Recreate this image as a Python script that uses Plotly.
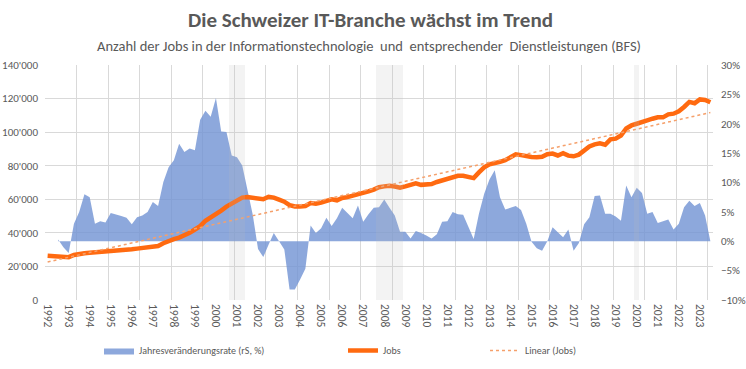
import plotly.graph_objects as go
import numpy as np

# ---------------- data ----------------
start_year = 1992
n_quarters = 127  # 1992Q1 .. 2023Q3
quarters = [start_year + k / 4 for k in range(n_quarters)]

jobs = [
    26400, 26200, 25900, 25600, 25500, 26800, 27500, 27900, 28100, 28300,
    28600, 28900, 29200, 29400, 29700, 29900, 30200, 30600, 31000, 31400,
    31700, 32200, 33800, 35200, 36300, 37200, 38500, 40000, 42000, 44000,
    47200, 49000, 50800, 53300, 55600, 57300, 59000, 61000, 61400, 61000,
    60000, 60000, 61500, 61000, 59800, 58600, 56500, 55700, 55700, 56000,
    57800, 57300, 58000, 59000, 60000, 59400, 60800, 61300, 62000, 62800,
    63700, 64700, 65800, 67200, 67700, 68100, 67600, 66900, 67700, 68600,
    69500, 68600, 68900, 69100, 70300, 71300, 72300, 73500, 74000, 74000,
    73300, 72600, 76000, 79000, 80800, 81400, 82300, 83300, 85000, 86800,
    86300, 85500, 85200, 85000, 85300, 86800, 87200, 86100, 87500, 86000,
    85600, 86600, 89200, 91500, 92700, 93300, 92500, 95700, 96100, 98000,
    102200, 104000, 105000, 105700, 107000, 108000, 108800, 108800, 110600, 111000,
    112400, 115000, 118000, 117200, 119500, 119200, 117800,
]

# annual change rate (%), first two quarters not available
growth = [
    None, None, 0.3, -1.0, -2.0, 3.0, 5.0, 8.0, 7.5, 3.0,
    3.4, 3.2, 4.8, 4.6, 4.3, 4.0, 2.9, 4.1, 4.4, 5.0,
    6.7, 6.0, 10.1, 12.6, 13.8, 16.6, 15.2, 15.8, 15.5, 20.7,
    22.2, 21.2, 24.4, 18.7, 18.6, 14.6, 14.3, 12.9, 8.7, 4.5,
    -1.3, -2.7, -0.6, 1.4, 0.0, -1.4, -8.2, -8.2, -6.5, -4.7,
    2.7, 1.4, 2.2, 4.0, 2.6, 3.9, 5.7, 4.8, 3.9, 6.1,
    3.3, 4.6, 5.7, 5.8, 7.1, 5.7, 4.4, 1.6, 1.6, 0.45,
    1.75, 1.4, 1.0, 0.45, 1.2, 3.3, 3.4, 5.0, 4.6, 4.5,
    2.4, 0.4, 4.7, 8.1, 10.5, 12.1, 7.5, 5.4, 5.7, 6.0,
    5.3, 3.0, -0.1, -1.2, -1.6, 0.0, 2.4, 1.6, 0.7, 2.0,
    -1.6, -0.3, 2.9, 4.1, 7.7, 7.8, 4.7, 4.7, 4.2, 3.5,
    9.5, 7.5, 9.1, 8.2, 4.7, 5.0, 3.1, 3.4, 3.7, 2.0,
    3.0, 5.8, 6.9, 6.0, 6.5, 4.4, 0.0,
]

recession_quarters = [2000.75, 2001.0, 2001.25,
                      2007.75, 2008.0, 2008.25, 2008.5, 2008.75,
                      2020.0]
recession_flag = [1 for _ in recession_quarters]

year_ticks = list(range(1992, 2024))
year_labels = [str(y) for y in year_ticks]

# linear trendline of jobs (least squares, as Excel)
idx = np.arange(len(jobs))
slope, intercept = np.polyfit(idx, np.array(jobs, dtype=float), 1)
trend = list(intercept + slope * idx)

# ---------------- styling ----------------
FONT = "Carlito, Calibri, Lato, sans-serif"
GREY = "#595959"
GRID = "#d9d9d9"
ORANGE = "#FF6A10"

x_lo = quarters[0] - 0.125
x_hi = quarters[-1] + 0.125

fig = go.Figure()

fig.add_trace(go.Scatter(
    x=quarters, y=growth, name="Jahresveränderungsrate (rS, %)",
    mode="lines", fill="tozeroy", line=dict(width=0, color="rgba(112,146,211,0.8)"),
    fillcolor="rgba(112,146,211,0.8)", xaxis="x", yaxis="y",
    legend="legend", connectgaps=False, hoverinfo="skip",
))
fig.add_trace(go.Scatter(
    x=quarters, y=jobs, name="Jobs", mode="lines",
    line=dict(width=4.5, color=ORANGE), xaxis="x", yaxis="y2",
    legend="legend2", hoverinfo="skip",
))
fig.add_trace(go.Scatter(
    x=quarters, y=trend, name="Linear (Jobs)", mode="lines",
    line=dict(width=1.5, color="#F5A06B", dash="dot"), xaxis="x", yaxis="y2",
    legend="legend3", hoverinfo="skip",
))
fig.add_trace(go.Bar(
    x=recession_quarters, y=recession_flag, width=0.25,
    marker=dict(color="rgba(190,190,190,0.18)", line=dict(width=0)),
    xaxis="x2", yaxis="y3", showlegend=False, hoverinfo="skip",
))

tick_font = dict(family=FONT, size=11, color=GREY)
xtick_font = dict(family=FONT, size=11.5, color=GREY)
leg_font = dict(family=FONT, size=10, color=GREY)
leg_y = 1 - 336 / 369

fig.update_layout(
    width=746, height=369,
    margin=dict(l=45, r=33, t=65, b=69, autoexpand=False),
    paper_bgcolor="white", plot_bgcolor="white",
    separators=".'",
    font=dict(family=FONT, color=GREY),
    xaxis=dict(range=[x_lo, x_hi], tickvals=year_ticks, ticktext=year_labels,
               tickangle=90, showgrid=False, zeroline=False, ticks="",
               tickfont=xtick_font, showline=False, automargin=False,
               ticklabelstandoff=3),
    xaxis2=dict(range=[x_lo, x_hi], overlaying="x", anchor="y3", tick0=x_lo,
                dtick=1.5, showgrid=True, gridcolor=GRID, gridwidth=1,
                showticklabels=False, zeroline=False, ticks="", automargin=False),
    yaxis=dict(range=[-10, 30], dtick=5, side="right", ticksuffix="%",
               showgrid=False, zeroline=False, tickfont=tick_font, ticks="",
               automargin=False, ticklabelstandoff=7),
    yaxis2=dict(range=[0, 140000], dtick=20000, side="left", overlaying="y",
                tickformat=",d", showgrid=True, gridcolor=GRID, gridwidth=1,
                zeroline=False, tickfont=tick_font, ticks="", automargin=False,
                ticklabelstandoff=6),
    yaxis3=dict(range=[0, 1], overlaying="y", anchor="x2", visible=False),
    showlegend=True,
    legend=dict(orientation="h", xref="container", yref="container",
                x=99 / 746, y=leg_y, xanchor="left", yanchor="top",
                font=leg_font, bgcolor="rgba(0,0,0,0)"),
    legend2=dict(orientation="h", xref="container", yref="container",
                 x=343 / 746, y=leg_y, xanchor="left", yanchor="top",
                 font=leg_font, bgcolor="rgba(0,0,0,0)"),
    legend3=dict(orientation="h", xref="container", yref="container",
                 x=485 / 746, y=leg_y, xanchor="left", yanchor="top",
                 font=leg_font, bgcolor="rgba(0,0,0,0)"),
    bargap=0,
    annotations=[
        dict(text="<b>Die Schweizer IT-Branche wächst im Trend</b>", xref="paper", yref="paper",
             x=(370 - 45) / 668, y=1 + (65 - 20) / 235, xanchor="center", yanchor="middle",
             showarrow=False, font=dict(family=FONT, size=21, color=GREY)),
        dict(text="Anzahl der Jobs in der Informationstechnologie  und  entsprechender  Dienstleistungen (BFS)",
             xref="paper", yref="paper",
             x=(369 - 45) / 668, y=1 + (65 - 46) / 235, xanchor="center", yanchor="middle",
             showarrow=False, font=dict(family=FONT, size=14.5, color=GREY)),
    ],
)

fig.write_html("out.html", config={"displayModeBar": False},
               post_script="document.body.style.margin='0px';")
